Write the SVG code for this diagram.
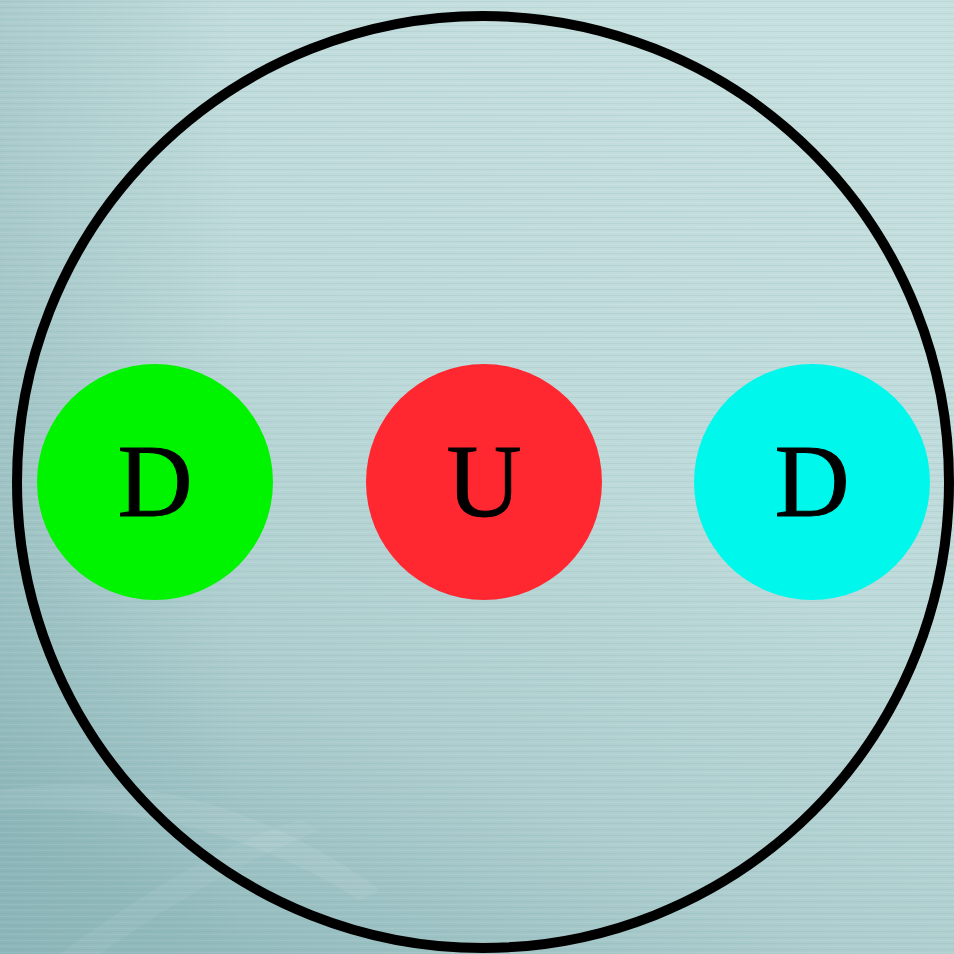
<svg xmlns="http://www.w3.org/2000/svg" width="954" height="954" viewBox="0 0 954 954">
  <defs>
    <linearGradient id="bg" x1="0.75" y1="0" x2="0.25" y2="1">
      <stop offset="0" stop-color="#c6dfdf"/>
      <stop offset="0.45" stop-color="#bdd9d9"/>
      <stop offset="0.75" stop-color="#adcdce"/>
      <stop offset="1" stop-color="#93bbbe"/>
    </linearGradient>
    <linearGradient id="side" x1="0" y1="0" x2="1" y2="0">
      <stop offset="0" stop-color="#7aa8ac" stop-opacity="0.3"/>
      <stop offset="0.25" stop-color="#7aa8ac" stop-opacity="0"/>
    </linearGradient>
    <pattern id="streaks" width="954" height="6" patternUnits="userSpaceOnUse">
      <rect x="0" y="1" width="954" height="1" fill="#6f9ea2" opacity="0.12"/>
      <rect x="0" y="4" width="954" height="1" fill="#ffffff" opacity="0.08"/>
    </pattern>
    <style>
      .outer { fill: none; stroke: #000; stroke-width: 10; }
      .lbl { font-family: "Liberation Serif", "Times New Roman", serif; font-size: 104px; text-anchor: middle; fill: #000; stroke: #000; stroke-width: 1; }
    </style>
  </defs>
  <rect width="954" height="954" fill="url(#bg)"/>
  <rect width="954" height="954" fill="url(#side)"/>
  <path d="M0,790 Q200,760 380,890 L360,900 Q200,800 0,810 Z" fill="#ffffff" opacity="0.08"/>
  <path d="M60,954 Q200,850 300,820 L320,830 Q220,870 100,954 Z" fill="#ffffff" opacity="0.06"/>
  <rect width="954" height="954" fill="url(#streaks)"/>
  <circle id="outer" class="outer" cx="483" cy="482" r="466"/>
  <g id="node-d1">
    <circle cx="155" cy="482" r="118" fill="#00f400"/>
    <text class="lbl" x="155" y="516">D</text>
  </g>
  <g id="node-u">
    <circle cx="484" cy="482" r="118" fill="#ff2830"/>
    <text class="lbl" x="484" y="516">U</text>
  </g>
  <g id="node-d2">
    <circle cx="812" cy="482" r="118" fill="#00f8ec"/>
    <text class="lbl" x="812" y="516">D</text>
  </g>
</svg>
